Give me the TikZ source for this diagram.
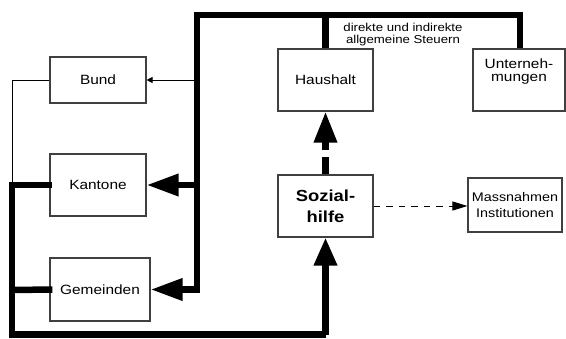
\documentclass[tikz,border=0pt]{standalone}
\usepackage{fontspec}
\setmainfont{Liberation Sans}[FakeStretch=1.15]
\usetikzlibrary{arrows.meta}
\begin{document}
\begin{tikzpicture}[x=1pt,y=-1pt,
  box/.style={draw=black!75, line width=1.1pt, rectangle, inner sep=0pt, align=center,
    font=\fontsize{13.4}{15}\selectfont},
  thickline/.style={line width=6.5pt, line join=miter, line cap=butt},
  thinline/.style={line width=1pt},
  bigtip/.style={-{Triangle[length=32pt,width=21pt]}},
]
\useasboundingbox (0,0) rectangle (566,338);
\fill[white] (0,0) rectangle (566,338);

\node[box, minimum width=96pt, minimum height=46pt] (bund) at (98,80) {Bund};
\node[box, minimum width=96pt, minimum height=62pt] (kantone) at (98,185) {Kantone};
\node[box, minimum width=100pt, minimum height=63pt] (gemeinden) at (100,289.5) {Gemeinden};
\node[box, minimum width=95pt, minimum height=62pt] (haushalt) at (325.5,80) {Haushalt};
\node[box, minimum width=92pt, minimum height=62pt] (untern) at (519,80) {Unterneh-\\[-2pt]mungen\\[4pt]};
\node[box, minimum width=95pt, minimum height=62pt, font=\fontsize{16}{21}\selectfont\bfseries] (sozial) at (325.5,206) {Sozial-\\hilfe};
\node[box, minimum width=94pt, minimum height=54pt, font=\fontsize{12.5}{16}\selectfont] (massn) at (515,205) {Massnahmen\\Institutionen};

\node[align=center, inner sep=0pt, font=\fontsize{11.5}{12}\selectfont] (steuern) at (403,34.5) {direkte und indirekte\\allgemeine Steuern};

\coordinate (tl) at (197,15);
\coordinate (tr) at (520,15);
\coordinate (kj) at (197,185);
\coordinate (bj) at (197,80);
\coordinate (ll) at (12,80);
\coordinate (lk) at (12,185);
\coordinate (lg) at (12,290);
\coordinate (lb) at (12,334.5);

% top thick frame
\draw[thickline, bigtip] (tr |- untern.north) -- (tr) -- (tl) |- (gemeinden.east);
\draw[thickline] (haushalt.north) -- (haushalt.north |- tl);
\draw[thickline, bigtip] (kj) -- (kantone.east);
\draw[thinline, -{Triangle[length=6pt,width=6pt]}] (bj) -- (bund.east);

% left side
\draw[thinline] (bund.west) -- (ll) -- (lk);
\draw[thickline] ([xshift=3pt]kantone.west) -- (lk) -- (lb) -- (lb -| sozial.south);
\draw[thickline, -{Triangle[length=28pt,width=22pt]}] (lb -| sozial.south) -- (sozial.south);
\draw[thickline] ([xshift=3pt]gemeinden.west) -- (lg);

% Sozialhilfe -> Haushalt (dashed thick)
\draw[thickline, dash pattern=on 17pt off 7pt on 200pt, -{Triangle[length=31pt,width=22pt]}] (sozial.north) -- (haushalt.south);

% Sozialhilfe -> Massnahmen (dashed thin)
\draw[thinline, dash pattern=on 6.5pt off 6pt, -{Triangle[length=15pt,width=9pt]}] (sozial.east) -- (massn.west |- sozial.east);
\end{tikzpicture}
\end{document}
